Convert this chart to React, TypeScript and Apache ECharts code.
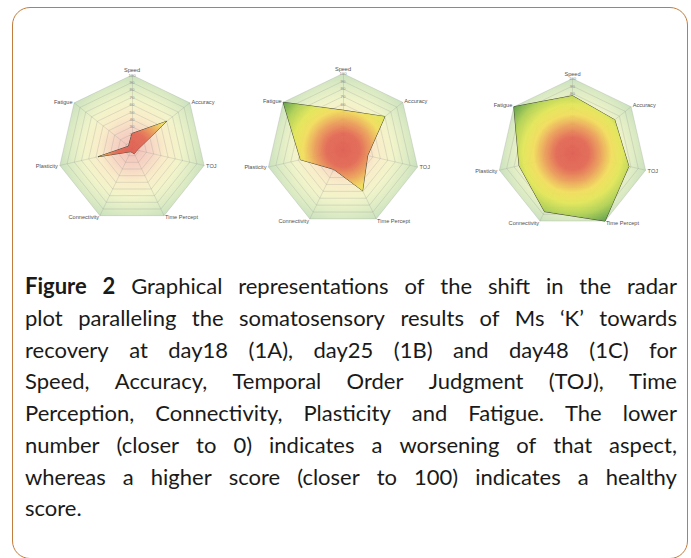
import React, { useEffect, useRef } from 'react';
import * as echarts from 'echarts';

// Indicators in the order ECharts lays them out (counter-clockwise from the top)
const indicatorNames = ['Speed', 'Fatigue', 'Plasticity', 'Connectivity', 'Time Percept', 'TOJ', 'Accuracy'];
const day18 = [21, 6, 47, 4, 7, 7, 60];
const day25 = [52, 100, 57, 28, 59, 33, 70];
const day48 = [77, 100, 73, 86, 100, 77, 72];
const seriesNames = ['day18 (1A)', 'day25 (1B)', 'day48 (1C)'];
const scaleMax = 100;
const scaleSplits = 10;

const captionLines = [
  'Figure 2 Graphical representations of the shift in the radar',
  'plot paralleling the somatosensory results of Ms \u2018K\u2019 towards',
  'recovery at day18 (1A), day25 (1B) and day48 (1C) for',
  'Speed, Accuracy, Temporal Order Judgment (TOJ), Time',
  'Perception, Connectivity, Plasticity and Fatigue. The lower',
  'number (closer to 0) indicates a worsening of that aspect,',
  'whereas a higher score (closer to 100) indicates a healthy',
  'score.',
];

const panels = [
  { cx: 132, cy: 149, r: 74 },
  { cx: 343, cy: 150, r: 76.5 },
  { cx: 572.5, cy: 153.5, r: 75 },
];

const dataSets = [day18, day25, day48];

function bgGradient(p: { cx: number; cy: number; r: number }) {
  return {
    type: 'radial', x: p.cx, y: p.cy, r: p.r, global: true,
    colorStops: [
      { offset: 0, color: '#f2c0b8' },
      { offset: 0.25, color: '#f6d5c4' },
      { offset: 0.45, color: '#f9edc9' },
      { offset: 0.65, color: '#f2f4ca' },
      { offset: 0.85, color: '#dcebc4' },
      { offset: 1, color: '#c9e1be' },
    ],
  };
}

function dataGradient(p: { cx: number; cy: number; r: number }) {
  return {
    type: 'radial', x: p.cx, y: p.cy, r: p.r, global: true,
    colorStops: [
      { offset: 0, color: '#df5d50' },
      { offset: 0.22, color: '#e26752' },
      { offset: 0.36, color: '#ea9957' },
      { offset: 0.52, color: '#f1dd5a' },
      { offset: 0.66, color: '#e2e656' },
      { offset: 0.82, color: '#afd052' },
      { offset: 1, color: '#5b9c46' },
    ],
  };
}

export default function App() {
  const ref = useRef<HTMLDivElement>(null);

  useEffect(() => {
    if (!ref.current) return;
    const chart = echarts.init(ref.current, undefined, { renderer: 'svg' });
    const radar = panels.map((p) => ({
      center: [p.cx, p.cy],
      radius: p.r,
      startAngle: 90,
      shape: 'polygon',
      splitNumber: scaleSplits,
      nameGap: 2,
      axisName: { color: '#505050', fontSize: 5.6, fontFamily: 'Liberation Sans' },
      indicator: indicatorNames.map((n, i) => ({
        name: n,
        min: 0,
        max: scaleMax,
        ...(i === 0
          ? {
              axisLabel: {
                show: true,
                fontSize: 4.3,
                color: '#8e8e8e',
                fontFamily: 'Liberation Sans',
                margin: 0,
                rotate: 0,
                align: 'center',
                verticalAlign: 'middle',
                showMinLabel: false,
              },
            }
          : {}),
      })),
      axisLine: { lineStyle: { color: 'rgba(140,140,140,0.4)', width: 0.6 } },
      splitLine: { lineStyle: { color: 'rgba(140,140,140,0.4)', width: 0.6 } },
      splitArea: { show: true, areaStyle: { color: [bgGradient(p)] } },
      axisLabel: { show: false },
    }));
    const series = panels.map((p, i) => ({
      type: 'radar',
      radarIndex: i,
      symbol: 'none',
      lineStyle: { color: '#4b4b3c', width: 1 },
      areaStyle: { color: dataGradient(p), opacity: 0.92 },
      data: [{ name: seriesNames[i], value: dataSets[i] }],
    }));
    chart.setOption({ animation: false, radar, series });
    return () => chart.dispose();
  }, []);

  return (
    <div style={{ position: 'absolute', left: 0, top: 0, width: 691, height: 558, background: '#fff', overflow: 'hidden' }}>
      <div
        style={{
          position: 'absolute', left: 12, top: 7, width: 676, height: 552,
          border: '1.6px solid #c27d3e', borderRadius: 18, boxSizing: 'border-box',
        }}
      />
      <div ref={ref} style={{ position: 'absolute', left: 0, top: 0, width: 691, height: 262 }} />
      {captionLines.map((line, li) => {
        const words = line.split(' ');
        const last = li === captionLines.length - 1;
        return (
          <div
            key={li}
            style={{
              position: 'absolute', left: 25, top: 294 + 31.75 * li - 24, width: 652,
              height: 31, lineHeight: '31px', fontSize: 22, fontFamily: 'Lato', color: '#1a1a1a',
              display: 'flex', justifyContent: last ? 'flex-start' : 'space-between', whiteSpace: 'nowrap',
            }}
          >
            {words.map((w, wi) => (
              <span key={wi} style={{ fontWeight: li === 0 && wi < 2 ? 700 : 400 }}>{w}</span>
            ))}
          </div>
        );
      })}
    </div>
  );
}
